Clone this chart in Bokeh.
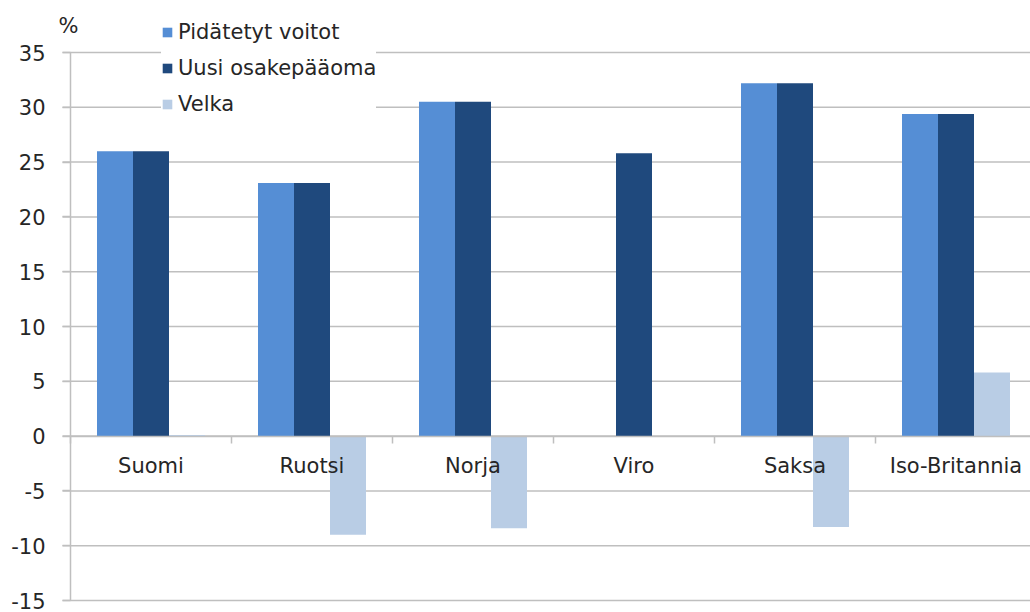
from bokeh.plotting import figure
from bokeh.models import ColumnDataSource, FixedTicker, Range1d, Legend, LegendItem, Label
from bokeh.embed import file_html
from bokeh.resources import INLINE

categories = ["Suomi", "Ruotsi", "Norja", "Viro", "Saksa", "Iso-Britannia"]
pidatetyt = [26.0, 23.1, 30.5, 0.0, 32.2, 29.4]
uusi = [26.0, 23.1, 30.5, 25.8, 32.2, 29.4]
velka = [0.1, -9.0, -8.4, 0.0, -8.3, 5.8]
y_ticks = [-15, -10, -5, 0, 5, 10, 15, 20, 25, 30, 35]
series_names = ["Pidätetyt voitot", "Uusi osakepääoma", "Velka"]
colors = ["#558ed5", "#1f497d", "#b9cde5"]

n = len(categories)
centers = [i + 0.5 for i in range(n)]
bounds = [float(i) for i in range(n + 1)]
bw = 0.2236
grey = "#bfbfbf"
txt = "#262626"
font = "DejaVu Sans"
fs = "21px"

W, H = 1030, 612
cat_px = 161.0
unit_px = 10.96
left_px, top_px = 70.0, 52.0
x_start = -left_px / cat_px
x_end = (W - left_px) / cat_px
y_end = y_ticks[-1] + top_px / unit_px
y_start = y_end - H / unit_px

p = figure(width=W, height=H, x_range=Range1d(x_start, x_end), y_range=Range1d(y_start, y_end),
           output_backend="svg", toolbar_location=None,
           min_border_left=0, min_border_right=0, min_border_top=0, min_border_bottom=0)
p.outline_line_color = None
p.xgrid.grid_line_color = None
p.ygrid.grid_line_color = None

# horizontal gridlines, starting at the y-axis tick ends
tick_len_units = 8.0 / cat_px
p.segment(x0=[-tick_len_units] * len(y_ticks), x1=[x_end] * len(y_ticks),
          y0=y_ticks, y1=y_ticks, line_color=grey, line_width=1.5)

renderers = []
for k, (vals, col) in enumerate(zip([pidatetyt, uusi, velka], colors)):
    src = ColumnDataSource(dict(x=[c + (k - 1) * bw for c in centers], top=vals))
    r = p.vbar(x="x", top="top", bottom=0, width=bw, source=src,
               fill_color=col, line_color=None)
    renderers.append(r)

# y axis at x = 0
ya = p.yaxis[0]
ya.fixed_location = 0
ya.bounds = (y_ticks[0], y_ticks[-1])
ya.ticker = FixedTicker(ticks=y_ticks)
ya.major_label_overrides = {t: str(t) for t in y_ticks}
ya.axis_line_color = grey
ya.axis_line_width = 1.5
ya.major_tick_line_color = grey
ya.major_tick_line_width = 1.5
ya.major_tick_out = 8
ya.major_tick_in = 0
ya.minor_tick_line_color = None
ya.major_label_standoff = 17
ya.major_label_text_font = font
ya.major_label_text_font_size = fs
ya.major_label_text_color = txt

# x axis at y = 0
xa = p.xaxis[0]
xa.fixed_location = 0
xa.bounds = (0, x_end)
xa.ticker = FixedTicker(ticks=centers, minor_ticks=bounds)
xa.major_label_overrides = {c: name for c, name in zip(centers, categories)}
xa.major_tick_line_color = None
xa.major_tick_out = 0
xa.major_tick_in = 0
xa.minor_tick_line_color = grey
xa.minor_tick_line_width = 1.5
xa.minor_tick_out = 7
xa.minor_tick_in = 0
xa.axis_line_color = grey
xa.axis_line_width = 1.5
xa.major_label_standoff = 11
xa.major_label_text_font = font
xa.major_label_text_font_size = fs
xa.major_label_text_color = txt

legend = Legend(items=[LegendItem(label=nm, renderers=[r]) for nm, r in zip(series_names, renderers)],
                location=(161, 496), padding=14, spacing=12, margin=0,
                glyph_width=12, glyph_height=12, label_height=24, label_standoff=5,
                label_text_font=font, label_text_font_size=fs, label_text_color=txt,
                background_fill_color="white", background_fill_alpha=1.0,
                border_line_color=None)
p.add_layout(legend, "center")

p.add_layout(Label(x=0, y=y_ticks[-1], text="%", y_offset=27, x_offset=-2, text_align="center",
                   text_baseline="middle", text_font=font, text_font_size=fs,
                   text_color=txt))

open("out.html", "w").write(file_html(p, INLINE))
